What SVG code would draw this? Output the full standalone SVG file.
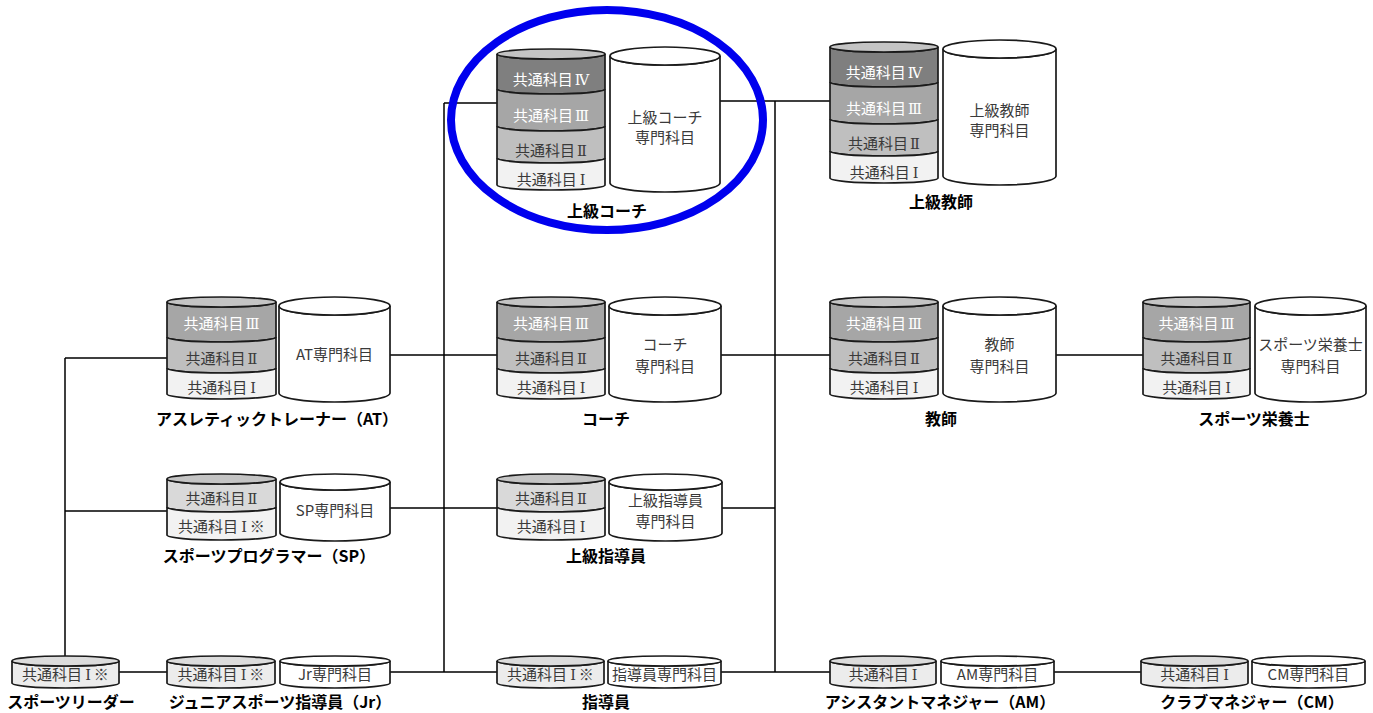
<svg xmlns="http://www.w3.org/2000/svg" width="1373" height="713" viewBox="0 0 1373 713">
<style>
.s{stroke:#1a1a1a;stroke-width:1.7}
.c4{fill:#7f7f7f}.c3{fill:#a6a6a6}.c2{fill:#bfbfbf}.c2l{fill:#d9d9d9}.c1{fill:#f2f2f2}.w{fill:#ffffff}.tp{fill:#c4c4c4}.b1{fill:#ececec}.tb{fill:#dcdcdc}
text{font-family:"Noto Sans CJK JP","Noto Sans",sans-serif;text-anchor:middle}
.t{font-size:15px;fill:#3a3a3a}
.tw{font-size:15px;fill:#ffffff}
.rn{font-family:"DejaVu Serif","Liberation Serif",serif;font-size:14.5px}
.lb{font-size:16px;font-weight:700;fill:#000;dominant-baseline:central}
.ln{stroke:#000;stroke-width:1.5;fill:none}
</style>
<rect width="1373" height="713" fill="#fff"/>
<g id="connectors">
<path class="ln" d="M444 103 V672 M444 103 H497 M775 101 V672 M720 101 H830"/>
<path class="ln" d="M65 358 V656 M65 358 H167 M65 511 H167"/>
<path class="ln" d="M390 355 H497 M721 355 H830 M1056 355 H1143"/>
<path class="ln" d="M390 508 H497 M722 508 H775"/>
<path class="ln" d="M119 672 H167 M390 672 H497 M721 672 H830 M1054 672 H1141"/>
</g>
<g id="node-jokyu-coach">
<path class="s c4" d="M497 54 A54 5 0 0 0 605 54 L605 89 A54 5 0 0 1 497 89 Z"/>
<path class="s c3" d="M497 89 A54 5 0 0 0 605 89 L605 126 A54 5 0 0 1 497 126 Z"/>
<path class="s c2" d="M497 126 A54 5 0 0 0 605 126 L605 158 A54 5 0 0 1 497 158 Z"/>
<path class="s c1" d="M497 158 A54 5 0 0 0 605 158 L605 185 A54 5 0 0 1 497 185 Z"/>
<ellipse class="s tp" cx="551" cy="54" rx="54" ry="5"/>
<text class="tw" x="551" y="84.5">共通科目<tspan class="rn" dx="2">Ⅳ</tspan></text>
<text class="tw" x="551" y="120.5">共通科目<tspan class="rn" dx="2">Ⅲ</tspan></text>
<text class="t" x="551" y="155.5">共通科目<tspan class="rn" dx="2">Ⅱ</tspan></text>
<text class="t" x="551" y="184.5">共通科目<tspan class="rn" dx="3">Ⅰ</tspan></text>
<path class="s w" d="M610 56 A55 9 0 0 0 720 56 L720 183 A55 9 0 0 1 610 183 Z"/>
<ellipse class="s w" cx="665" cy="56" rx="55" ry="9"/>
<text class="t" x="665" y="122.5">上級コーチ</text>
<text class="t" x="665" y="142.5">専門科目</text>
<text class="lb" x="607" y="210">上級コーチ</text>
<ellipse cx="607" cy="120" rx="156" ry="110" fill="none" stroke="#0000ee" stroke-width="8"/>
</g>
<g id="node-jokyu-kyoshi">
<path class="s c4" d="M830 47 A54 5 0 0 0 938 47 L938 82 A54 5 0 0 1 830 82 Z"/>
<path class="s c3" d="M830 82 A54 5 0 0 0 938 82 L938 119 A54 5 0 0 1 830 119 Z"/>
<path class="s c2" d="M830 119 A54 5 0 0 0 938 119 L938 151 A54 5 0 0 1 830 151 Z"/>
<path class="s c1" d="M830 151 A54 5 0 0 0 938 151 L938 178 A54 5 0 0 1 830 178 Z"/>
<ellipse class="s tp" cx="884" cy="47" rx="54" ry="5"/>
<text class="tw" x="884" y="77.5">共通科目<tspan class="rn" dx="2">Ⅳ</tspan></text>
<text class="tw" x="884" y="113.5">共通科目<tspan class="rn" dx="2">Ⅲ</tspan></text>
<text class="t" x="884" y="148.5">共通科目<tspan class="rn" dx="2">Ⅱ</tspan></text>
<text class="t" x="884" y="177.5">共通科目<tspan class="rn" dx="3">Ⅰ</tspan></text>
<path class="s w" d="M943 49 A56.5 9 0 0 0 1056 49 L1056 176 A56.5 9 0 0 1 943 176 Z"/>
<ellipse class="s w" cx="999.5" cy="49" rx="56.5" ry="9"/>
<text class="t" x="999.5" y="115.5">上級教師</text>
<text class="t" x="999.5" y="135.5">専門科目</text>
<text class="lb" x="941" y="201">上級教師</text>
</g>
<g id="node-at">
<path class="s c3" d="M167 302 A54.5 5 0 0 0 276 302 L276 337 A54.5 5 0 0 1 167 337 Z"/>
<path class="s c2" d="M167 337 A54.5 5 0 0 0 276 337 L276 368 A54.5 5 0 0 1 167 368 Z"/>
<path class="s c1" d="M167 368 A54.5 5 0 0 0 276 368 L276 394 A54.5 5 0 0 1 167 394 Z"/>
<ellipse class="s tp" cx="221.5" cy="302" rx="54.5" ry="5"/>
<text class="tw" x="221.5" y="328.5">共通科目<tspan class="rn" dx="2">Ⅲ</tspan></text>
<text class="t" x="221.5" y="363.5">共通科目<tspan class="rn" dx="2">Ⅱ</tspan></text>
<text class="t" x="221.5" y="392.5">共通科目<tspan class="rn" dx="3">Ⅰ</tspan></text>
<path class="s w" d="M279 306 A55.5 9 0 0 0 390 306 L390 393 A55.5 9 0 0 1 279 393 Z"/>
<ellipse class="s w" cx="334.5" cy="306" rx="55.5" ry="9"/>
<text class="t" x="334.5" y="359.5">AT専門科目</text>
<text class="lb" x="277" y="418">アスレティックトレーナー（AT）</text>
</g>
<g id="node-coach">
<path class="s c3" d="M497 302 A54 5 0 0 0 605 302 L605 337 A54 5 0 0 1 497 337 Z"/>
<path class="s c2" d="M497 337 A54 5 0 0 0 605 337 L605 368 A54 5 0 0 1 497 368 Z"/>
<path class="s c1" d="M497 368 A54 5 0 0 0 605 368 L605 394 A54 5 0 0 1 497 394 Z"/>
<ellipse class="s tp" cx="551" cy="302" rx="54" ry="5"/>
<text class="tw" x="551" y="328.5">共通科目<tspan class="rn" dx="2">Ⅲ</tspan></text>
<text class="t" x="551" y="363.5">共通科目<tspan class="rn" dx="2">Ⅱ</tspan></text>
<text class="t" x="551" y="392.5">共通科目<tspan class="rn" dx="3">Ⅰ</tspan></text>
<path class="s w" d="M609 306 A56 9 0 0 0 721 306 L721 393 A56 9 0 0 1 609 393 Z"/>
<ellipse class="s w" cx="665" cy="306" rx="56" ry="9"/>
<text class="t" x="665" y="349.5">コーチ</text>
<text class="t" x="665" y="371.5">専門科目</text>
<text class="lb" x="606" y="418">コーチ</text>
</g>
<g id="node-kyoshi">
<path class="s c3" d="M830 302 A54 5 0 0 0 938 302 L938 337 A54 5 0 0 1 830 337 Z"/>
<path class="s c2" d="M830 337 A54 5 0 0 0 938 337 L938 368 A54 5 0 0 1 830 368 Z"/>
<path class="s c1" d="M830 368 A54 5 0 0 0 938 368 L938 394 A54 5 0 0 1 830 394 Z"/>
<ellipse class="s tp" cx="884" cy="302" rx="54" ry="5"/>
<text class="tw" x="884" y="328.5">共通科目<tspan class="rn" dx="2">Ⅲ</tspan></text>
<text class="t" x="884" y="363.5">共通科目<tspan class="rn" dx="2">Ⅱ</tspan></text>
<text class="t" x="884" y="392.5">共通科目<tspan class="rn" dx="3">Ⅰ</tspan></text>
<path class="s w" d="M943 306 A56.5 9 0 0 0 1056 306 L1056 393 A56.5 9 0 0 1 943 393 Z"/>
<ellipse class="s w" cx="999.5" cy="306" rx="56.5" ry="9"/>
<text class="t" x="999.5" y="349.5">教師</text>
<text class="t" x="999.5" y="371.5">専門科目</text>
<text class="lb" x="941" y="418">教師</text>
</g>
<g id="node-eiyoshi">
<path class="s c3" d="M1143 302 A53.5 5 0 0 0 1250 302 L1250 337 A53.5 5 0 0 1 1143 337 Z"/>
<path class="s c2" d="M1143 337 A53.5 5 0 0 0 1250 337 L1250 368 A53.5 5 0 0 1 1143 368 Z"/>
<path class="s c1" d="M1143 368 A53.5 5 0 0 0 1250 368 L1250 394 A53.5 5 0 0 1 1143 394 Z"/>
<ellipse class="s tp" cx="1196.5" cy="302" rx="53.5" ry="5"/>
<text class="tw" x="1196.5" y="328.5">共通科目<tspan class="rn" dx="2">Ⅲ</tspan></text>
<text class="t" x="1196.5" y="363.5">共通科目<tspan class="rn" dx="2">Ⅱ</tspan></text>
<text class="t" x="1196.5" y="392.5">共通科目<tspan class="rn" dx="3">Ⅰ</tspan></text>
<path class="s w" d="M1255 306 A55.5 9 0 0 0 1366 306 L1366 393 A55.5 9 0 0 1 1255 393 Z"/>
<ellipse class="s w" cx="1310.5" cy="306" rx="55.5" ry="9"/>
<text class="t" x="1310.5" y="349.5">スポーツ栄養士</text>
<text class="t" x="1310.5" y="371.5">専門科目</text>
<text class="lb" x="1254" y="418">スポーツ栄養士</text>
</g>
<g id="node-sp">
<path class="s c2l" d="M167 479 A54.5 5 0 0 0 276 479 L276 507 A54.5 5 0 0 1 167 507 Z"/>
<path class="s c1" d="M167 507 A54.5 5 0 0 0 276 507 L276 535 A54.5 5 0 0 1 167 535 Z"/>
<ellipse class="s tp" cx="221.5" cy="479" rx="54.5" ry="5"/>
<text class="t" x="221.5" y="503.5">共通科目<tspan class="rn" dx="2">Ⅱ</tspan></text>
<text class="t" x="221.5" y="531.5">共通科目<tspan class="rn" dx="3">Ⅰ</tspan><tspan dx="3">※</tspan></text>
<path class="s w" d="M280 482 A55 8 0 0 0 390 482 L390 533 A55 8 0 0 1 280 533 Z"/>
<ellipse class="s w" cx="335" cy="482" rx="55" ry="8"/>
<text class="t" x="335" y="515.5">SP専門科目</text>
<text class="lb" x="269" y="555">スポーツプログラマー（SP）</text>
</g>
<g id="node-jokyu-shidoin">
<path class="s c2l" d="M497 479 A54 5 0 0 0 605 479 L605 507 A54 5 0 0 1 497 507 Z"/>
<path class="s c1" d="M497 507 A54 5 0 0 0 605 507 L605 535 A54 5 0 0 1 497 535 Z"/>
<ellipse class="s tp" cx="551" cy="479" rx="54" ry="5"/>
<text class="t" x="551" y="503.5">共通科目<tspan class="rn" dx="2">Ⅱ</tspan></text>
<text class="t" x="551" y="531.5">共通科目<tspan class="rn" dx="3">Ⅰ</tspan></text>
<path class="s w" d="M609 482 A56.5 8 0 0 0 722 482 L722 533 A56.5 8 0 0 1 609 533 Z"/>
<ellipse class="s w" cx="665.5" cy="482" rx="56.5" ry="8"/>
<text class="t" x="665.5" y="505.5">上級指導員</text>
<text class="t" x="665.5" y="526.5">専門科目</text>
<text class="lb" x="606" y="555">上級指導員</text>
</g>
<g id="node-leader">
<path class="s b1" d="M12 661 A53.5 5 0 0 0 119 661 L119 683 A53.5 5 0 0 1 12 683 Z"/>
<ellipse class="s tb" cx="65.5" cy="661" rx="53.5" ry="5"/>
<text class="t" x="65.5" y="679.5">共通科目<tspan class="rn" dx="3">Ⅰ</tspan><tspan dx="3">※</tspan></text>
<text class="lb" x="71" y="701">スポーツリーダー</text>
</g>
<g id="node-jr">
<path class="s b1" d="M167 661 A54 5 0 0 0 275 661 L275 683 A54 5 0 0 1 167 683 Z"/>
<ellipse class="s tb" cx="221" cy="661" rx="54" ry="5"/>
<text class="t" x="221" y="679.5">共通科目<tspan class="rn" dx="3">Ⅰ</tspan><tspan dx="3">※</tspan></text>
<path class="s w" d="M280 661 A55 5 0 0 0 390 661 L390 683 A55 5 0 0 1 280 683 Z"/>
<ellipse class="s w" cx="335" cy="661" rx="55" ry="5"/>
<text class="t" x="335" y="679.5">Jr専門科目</text>
<text class="lb" x="280" y="701">ジュニアスポーツ指導員（Jr）</text>
</g>
<g id="node-shidoin">
<path class="s b1" d="M497 661 A53.5 5 0 0 0 604 661 L604 683 A53.5 5 0 0 1 497 683 Z"/>
<ellipse class="s tb" cx="550.5" cy="661" rx="53.5" ry="5"/>
<text class="t" x="550.5" y="679.5">共通科目<tspan class="rn" dx="3">Ⅰ</tspan><tspan dx="3">※</tspan></text>
<path class="s w" d="M608 661 A56.5 5 0 0 0 721 661 L721 683 A56.5 5 0 0 1 608 683 Z"/>
<ellipse class="s w" cx="664.5" cy="661" rx="56.5" ry="5"/>
<text class="t" x="664.5" y="679.5">指導員専門科目</text>
<text class="lb" x="606" y="701">指導員</text>
</g>
<g id="node-am">
<path class="s b1" d="M830 661 A53 5 0 0 0 936 661 L936 683 A53 5 0 0 1 830 683 Z"/>
<ellipse class="s tb" cx="883" cy="661" rx="53" ry="5"/>
<text class="t" x="883" y="679.5">共通科目<tspan class="rn" dx="3">Ⅰ</tspan></text>
<path class="s w" d="M941 661 A56.5 5 0 0 0 1054 661 L1054 683 A56.5 5 0 0 1 941 683 Z"/>
<ellipse class="s w" cx="997.5" cy="661" rx="56.5" ry="5"/>
<text class="t" x="997.5" y="679.5">AM専門科目</text>
<text class="lb" x="940" y="701">アシスタントマネジャー（AM）</text>
</g>
<g id="node-cm">
<path class="s b1" d="M1141 661 A53.5 5 0 0 0 1248 661 L1248 683 A53.5 5 0 0 1 1141 683 Z"/>
<ellipse class="s tb" cx="1194.5" cy="661" rx="53.5" ry="5"/>
<text class="t" x="1194.5" y="679.5">共通科目<tspan class="rn" dx="3">Ⅰ</tspan></text>
<path class="s w" d="M1252 661 A56.5 5 0 0 0 1365 661 L1365 683 A56.5 5 0 0 1 1252 683 Z"/>
<ellipse class="s w" cx="1308.5" cy="661" rx="56.5" ry="5"/>
<text class="t" x="1308.5" y="679.5">CM専門科目</text>
<text class="lb" x="1252" y="701">クラブマネジャー（CM）</text>
</g>
</svg>
